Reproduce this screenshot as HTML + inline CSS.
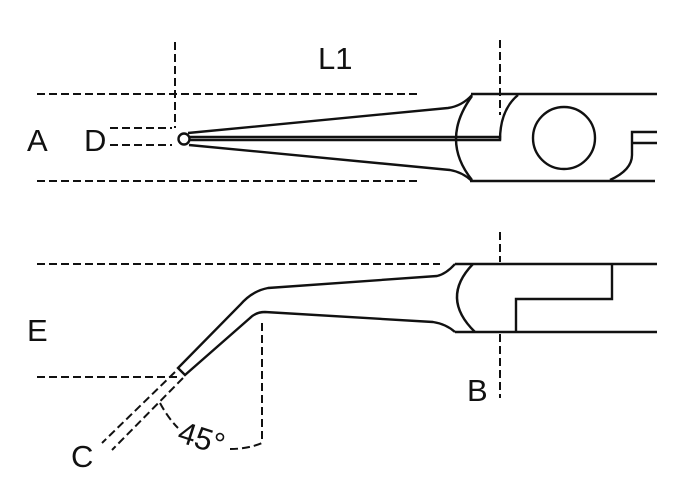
<!DOCTYPE html>
<html><head><style>
html,body{margin:0;padding:0;background:#fff;}
svg{display:block;}
text{font-family:"Liberation Sans",sans-serif;fill:#111;}
</style></head><body>
<svg width="688" height="500" viewBox="0 0 688 500" xmlns="http://www.w3.org/2000/svg">
<g fill="none" stroke="#111" stroke-width="2" stroke-dasharray="8,4">
<line x1="37" y1="94" x2="418" y2="94"/>
<line x1="37" y1="181" x2="418" y2="181"/>
<line x1="110" y1="128" x2="172" y2="128"/>
<line x1="110" y1="145" x2="172" y2="145"/>
<line x1="175" y1="42" x2="175" y2="128"/>
<line x1="500" y1="40" x2="500" y2="115"/>
<line x1="37" y1="264" x2="440" y2="264"/>
<line x1="37" y1="377" x2="178" y2="377"/>
<line x1="175" y1="372" x2="102" y2="443"/>
<line x1="183" y1="378" x2="112" y2="450"/>
<line x1="262" y1="323" x2="262" y2="443"/>
<line x1="500" y1="232" x2="500" y2="262"/>
<line x1="500" y1="334" x2="500" y2="398"/>
<path d="M160 403 Q168 418 178 428"/>
<path d="M230 449 Q248 449 262 443"/>
</g>
<g fill="none" stroke="#111" stroke-width="2.4">
<line x1="471" y1="94" x2="657" y2="94"/>
<line x1="470" y1="181" x2="655" y2="181"/>
<path d="M188 133 L448 108 Q462 106 472 95"/>
<path d="M189 145 L450 170 Q462 172 472 181"/>
<circle cx="184" cy="139" r="5.5"/>
<path d="M190 137 L500 137 L500 140 L190 140"/>
<path d="M472 96 Q440 140 472 180"/>
<path d="M518 95 Q500 110 500 140"/>
<circle cx="564" cy="138" r="31"/>
<path d="M610 180 Q632 170 632 155 L632 132 L657 132"/>
<line x1="632" y1="143" x2="657" y2="143"/>
<line x1="455" y1="264" x2="657" y2="264"/>
<line x1="455" y1="332" x2="657" y2="332"/>
<path d="M455 264 Q446 274 437 276 L268 288 Q252 291 240 305 L178 368 L185 375 L250 318 Q256 312 265 312 L433 322 Q446 324 455 332"/>
<path d="M473 264 Q440 298 475 332"/>
<path d="M612 264 L612 299 L516 299 L516 332"/>
</g>
<g font-size="31">
<text x="318" y="69">L1</text>
<text x="27" y="151">A</text>
<text x="84" y="151">D</text>
<text x="27" y="341">E</text>
<text x="467" y="401">B</text>
<text x="71" y="467">C</text>
<text x="0" y="0" transform="translate(176,441) rotate(18)">45°</text>
</g>
</svg>
</body></html>
